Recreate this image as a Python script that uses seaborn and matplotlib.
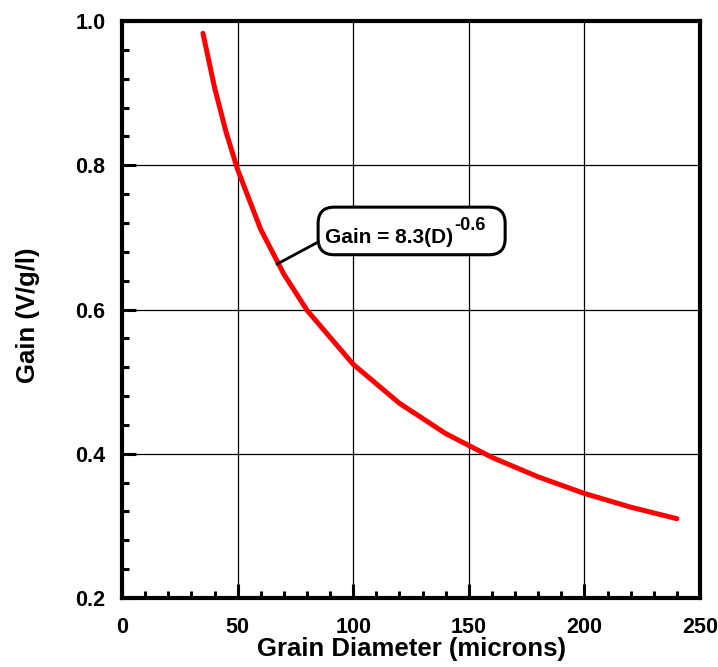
import matplotlib
matplotlib.use("Agg")
import matplotlib.pyplot as plt
import seaborn as sns
import pandas as pd
from matplotlib.ticker import MultipleLocator
from matplotlib.patches import FancyBboxPatch

# Data
diameter = [35, 40, 45, 50, 60, 70, 80, 100, 120, 140, 160, 180, 200, 220, 240]
gain = [0.983, 0.908, 0.846, 0.794, 0.711, 0.649, 0.599, 0.524, 0.470, 0.428,
        0.395, 0.368, 0.345, 0.326, 0.310]
x_ticks = [0, 50, 100, 150, 200, 250]
y_ticks = [0.2, 0.4, 0.6, 0.8, 1.0]
label_main = "Gain = 8.3(D)"
label_exp = "-0.6"
leader_from = (67.0, 0.663)   # point on curve
leader_to = (85.6, 0.695)     # left edge of label box

sns.set_style("white")
plt.rcParams['font.family'] = ['Liberation Sans', 'DejaVu Sans']
plt.rcParams['font.weight'] = 'bold'
plt.rcParams['text.color'] = 'black'
plt.rcParams['axes.labelcolor'] = 'black'
plt.rcParams['xtick.color'] = 'black'
plt.rcParams['ytick.color'] = 'black'

df = pd.DataFrame({"Diameter": diameter, "Gain": gain})

fig = plt.figure(figsize=(7.18, 6.67), dpi=100)
ax = fig.add_axes([0.170, 0.1034, 0.805, 0.865])

sns.lineplot(data=df, x="Diameter", y="Gain", ax=ax, color="#ff0000",
             linewidth=3.6, solid_capstyle="round", zorder=3)

ax.set_xlim(0, 250)
ax.set_ylim(0.2, 1.0)
ax.set_xticks(x_ticks)
ax.set_yticks(y_ticks)
ax.set_xticklabels([f"{v:d}" for v in x_ticks], fontsize=15.5, fontweight="bold")
ax.set_yticklabels([f"{v:.1f}" for v in y_ticks], fontsize=15.5, fontweight="bold")
ax.xaxis.set_minor_locator(MultipleLocator(10))
ax.yaxis.set_minor_locator(MultipleLocator(0.04))

ax.grid(True, which="major", color="black", linewidth=0.9)
ax.grid(False, which="minor")
ax.set_axisbelow(True)

for s in ax.spines.values():
    s.set_linewidth(3.0)
    s.set_color("black")

ax.tick_params(axis="both", which="both", bottom=True, left=True, top=False,
               right=False, direction="in")
ax.tick_params(axis="both", which="major", length=10, width=2.2)
ax.tick_params(axis="both", which="minor", length=5, width=2.2)
ax.tick_params(axis="x", which="major", pad=14)
ax.tick_params(axis="y", which="major", pad=12)

ax.set_xlabel("Grain Diameter (microns)", fontsize=18.5, fontweight="bold", labelpad=-1)
ax.set_ylabel("Gain (V/g/l)", fontsize=18.5, fontweight="bold")
ax.yaxis.set_label_coords(-0.142, 0.49)

# leader line
ax.annotate("", xy=leader_from, xytext=leader_to,
            arrowprops=dict(arrowstyle="-", color="black", lw=2.0,
                            shrinkA=0, shrinkB=0), zorder=4)

# rounded label box
x_px = 2.312   # px per x unit
y_px = 721.25  # px per y unit
box = FancyBboxPatch((84.8, 0.676), 165.7 - 84.8, 0.742 - 0.676,
                     boxstyle="round,pad=0,rounding_size=7",
                     mutation_aspect=x_px / y_px,
                     fc="white", ec="black", lw=2.2, zorder=5)
ax.add_patch(box)
ax.text(87.8, 0.692, label_main, fontsize=15, fontweight="bold",
        ha="left", va="baseline", zorder=6)
ax.text(143.8, 0.7105, label_exp, fontsize=13, fontweight="bold",
        ha="left", va="baseline", zorder=6)

fig.savefig("out.png", dpi=100)
